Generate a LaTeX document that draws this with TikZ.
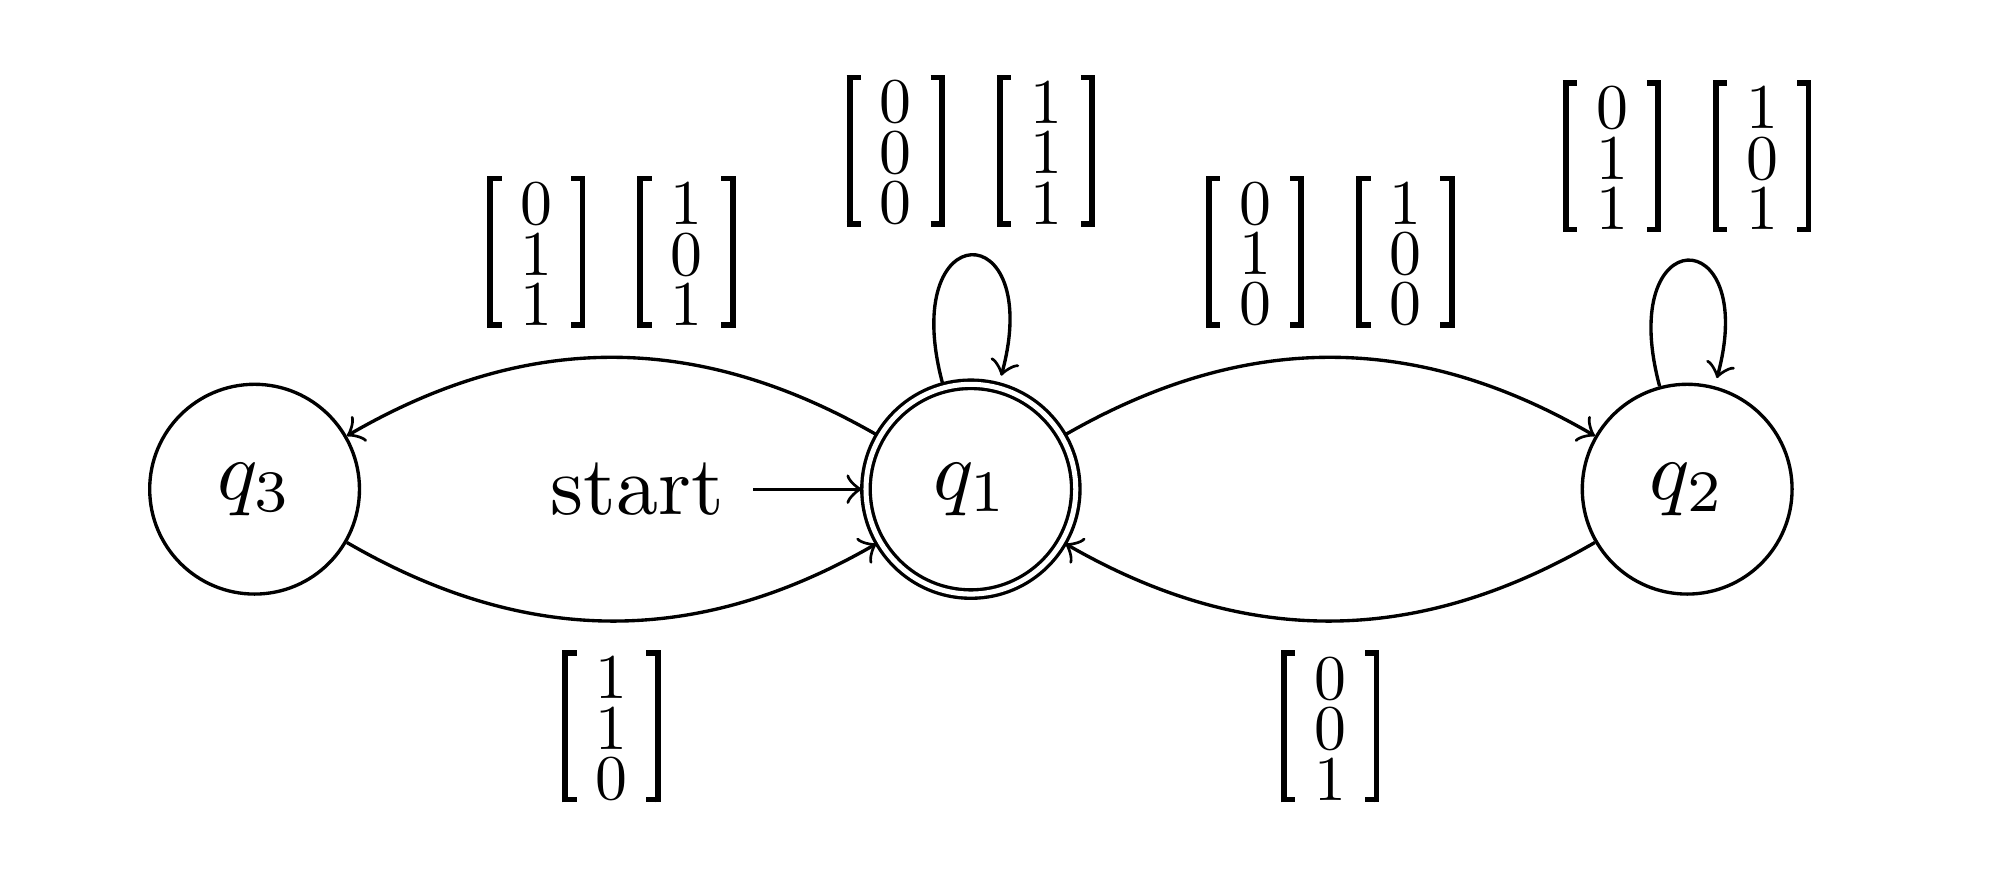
\documentclass[tikz,border=0pt]{standalone}
\usetikzlibrary{automata,arrows}
\DeclareFontFamily{TU}{lmrten}{}
\DeclareFontShape{TU}{lmrten}{m}{n}{<-> \UnicodeFontFile{lmroman10-regular}{\UnicodeFontTeXLigatures}}{}
\newcommand\brL{\hbox{\vrule width 0.7pt height 9.05pt depth 9.05pt\kern-0.7pt\vrule width 1.7pt height 9.05pt depth -8.4pt\kern-1.7pt\vrule width 1.7pt height -8.4pt depth 9.05pt}}
\newcommand\brR{\hbox{\vrule width 1.7pt height 9.05pt depth -8.4pt\kern-1.7pt\vrule width 1.7pt height -8.4pt depth 9.05pt\kern-0.7pt\vrule width 0.7pt height 9.05pt depth 9.05pt}}
\newcommand\colvec[3]{\ensuremath{\vcenter{\brL}\kern2.25pt\vcenter{\lineskiplimit=-10pt\kern0.5pt\hbox{#1}\hbox{#2}\hbox{#3}}\kern2.25pt\vcenter{\brR}}}
\newcommand\twovec[6]{\colvec{#1}{#2}{#3}\kern6.2pt\colvec{#4}{#5}{#6}}
\tikzset{
  every state/.style={minimum size=25pt, inner sep=0pt},
  lbl/.style={font=\fontfamily{lmrten}\fontsize{7.6}{6}\selectfont, inner sep=3.33pt}
}
\begin{document}
\begin{tikzpicture}[>=to, initial text=start]
\useasboundingbox (-115.7pt,-47.6pt) rectangle (122.4pt,58.3pt);
\node[state,accepting,initial] (q1) at (0pt,0pt) {$q_1$};
\node[state] (q3) at (-85.36pt,0pt) {$q_3$};
\node[state] (q2) at (85.36pt,0pt) {$q_2$};
\path[->]
  (q1) edge[bend right] node[lbl,above] {\twovec{0}{1}{1}{1}{0}{1}} (q3)
  (q3) edge[bend right] node[lbl,below] {\colvec{1}{1}{0}} (q1)
  (q1) edge[bend left] node[lbl,above] {\twovec{0}{1}{0}{1}{0}{0}} (q2)
  (q2) edge[bend left] node[lbl,below] {\colvec{0}{0}{1}} (q1)
  (q1) edge[loop above] node[lbl,above] {\twovec{0}{0}{0}{1}{1}{1}} (q1)
  (q2) edge[loop above] node[lbl,above] {\twovec{0}{1}{1}{1}{0}{1}} (q2);
\end{tikzpicture}
\end{document}
